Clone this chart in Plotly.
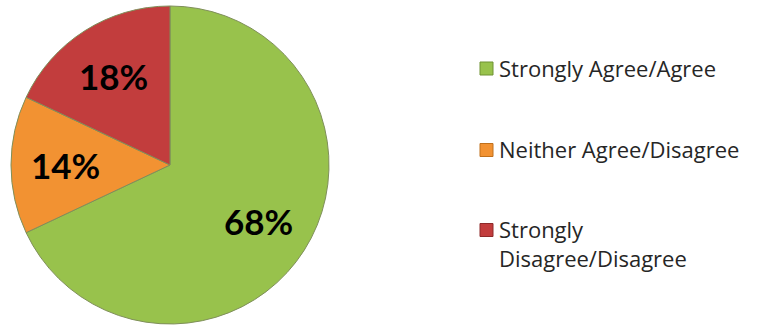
import math
import plotly.graph_objects as go

# Survey response shares
labels = ["Strongly Agree/Agree", "Neither Agree/Disagree", "Strongly<br>Disagree/Disagree"]
values = [68, 14, 18]
colors = ["#98c24c", "#f29232", "#c23d3d"]
edge_colors = ["#6f9232", "#c0701c", "#8e2a2a"]

W, H = 758, 326
# pie placement in pixels
cx, cy, R = 170, 165, 159

fig = go.Figure()
fig.add_trace(go.Pie(
    labels=labels,
    values=values,
    sort=False,
    direction="clockwise",
    rotation=0,
    marker=dict(colors=colors, line=dict(color="#7f8f5a", width=1)),
    textinfo="none",
    domain=dict(x=[(cx - R) / W, (cx + R) / W], y=[1 - (cy + R) / H, 1 - (cy - R) / H]),
    showlegend=False,
    hoverinfo="label+percent",
))

# Percentage labels placed along each slice's bisector
total = sum(values)
start = 0.0
for v in values:
    mid = start + v / total * 360 / 2
    start += v / total * 360
    r = 0.66 * R
    px = cx + r * math.sin(math.radians(mid))
    py = cy - r * math.cos(math.radians(mid))
    fig.add_annotation(
        x=px / W, y=1 - py / H, xref="paper", yref="paper",
        xanchor="center", yanchor="middle", showarrow=False,
        text=f"{v}%", font=dict(family="Lato", size=35, color="#000000", weight="bold"),
    )

# Legend drawn as squares with labels
legend_y = [68.5, 150, 230]
for lab, col, edge, y in zip(labels, colors, edge_colors, legend_y):
    fig.add_shape(
        type="rect", xref="paper", yref="paper",
        x0=480 / W, x1=493 / W, y0=1 - (y + 6.5) / H, y1=1 - (y - 6.5) / H,
        fillcolor=col, line=dict(color=edge, width=1),
    )
    fig.add_annotation(
        x=497 / W, y=1 - (y - 18) / H, xref="paper", yref="paper",
        xanchor="left", yanchor="top", align="left", showarrow=False,
        text=lab, font=dict(family="Open Sans", size=22, color="#262626"),
    )

fig.update_layout(
    width=W, height=H,
    margin=dict(l=0, r=0, t=0, b=0),
    paper_bgcolor="white",
    plot_bgcolor="white",
)

fig.write_html("out.html")
